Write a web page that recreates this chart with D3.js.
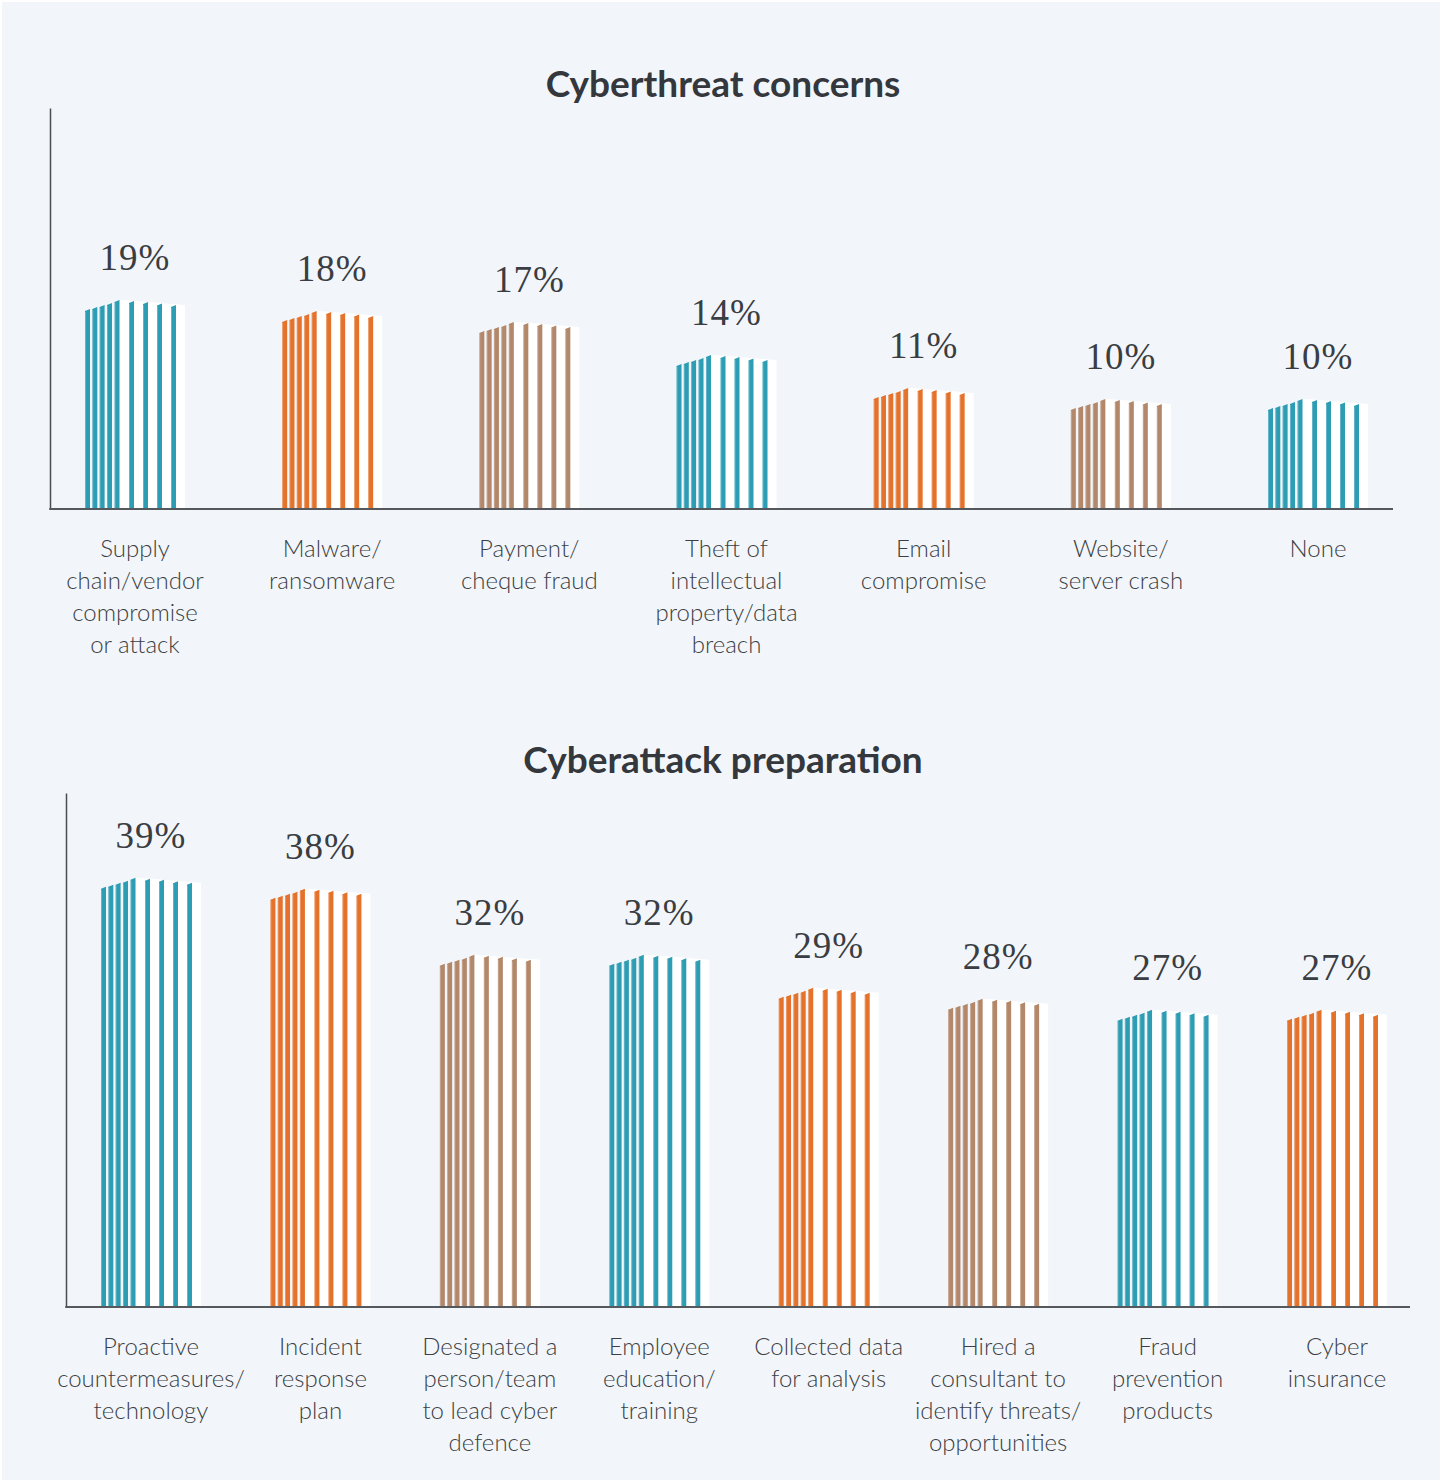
<!DOCTYPE html>
<html>
<head>
<meta charset="utf-8">
<script src="https://cdn.jsdelivr.net/npm/d3@7"></script>
<style>
  html, body { margin: 0; padding: 0; background: #ffffff; }
  svg { display: block; }
</style>
</head>
<body>
<svg id="chart" width="1442" height="1482"></svg>
<script>
// ---- Data ----
const threatCategories = [
  "Supply|chain/vendor|compromise|or attack",
  "Malware/|ransomware",
  "Payment/|cheque fraud",
  "Theft of|intellectual|property/data|breach",
  "Email|compromise",
  "Website/|server crash",
  "None"
];
const threatValues = [19, 18, 17, 14, 11, 10, 10];

const prepCategories = [
  "Proactive|countermeasures/|technology",
  "Incident|response|plan",
  "Designated a|person/team|to lead cyber|defence",
  "Employee|education/|training",
  "Collected data|for analysis",
  "Hired a|consultant to|identify threats/|opportunities",
  "Fraud|prevention|products",
  "Cyber|insurance"
];
const prepValues = [39, 38, 32, 32, 29, 28, 27, 27];

const palette = ["#2d9db4", "#e5722a", "#b2876a"];

// ---- Drawing ----
const svg = d3.select("#chart");
svg.append("rect").attr("x", 2).attr("y", 2).attr("width", 1438).attr("height", 1478)
  .attr("fill", "#f2f6fa");

// Pleated bar: five tightly packed stripes rising to a crest, then four
// spaced stripes on a white panel that falls slightly to the right.
const denseX = [0, 7.3, 14.6, 22, 29.5];
const sparseX = [44, 58, 72, 86];
const drops = [9, 7, 5, 3, 0, 1, 2, 3.5, 5];
const stripeW = 5, barW = 100, slant = 2;

function drawPanel(cfg) {
  const g = svg.append("g");
  const y = d3.scaleLinear().domain([0, cfg.yMax]).range([cfg.baseY, cfg.topY]);
  const x = d3.scalePoint().domain(cfg.categories).range(cfg.xRange);
  const color = (i) => palette[i % 3];

  // title
  g.append("text")
    .attr("x", 723).attr("y", cfg.titleY)
    .attr("text-anchor", "middle")
    .attr("font-family", "Lato, 'Open Sans', sans-serif")
    .attr("font-weight", 700)
    .attr("font-size", 37)
    .attr("fill", "#34373c")
    .text(cfg.title);

  // bars
  cfg.categories.forEach((cat, i) => {
    const v = cfg.values[i];
    const left = x(cat) - barW / 2;
    const peak = y(v);
    const base = y(0);
    const bg = g.append("g");

    // white panel behind the spaced stripes
    const panelL = left + denseX[4] + stripeW;
    const panelR = left + barW;
    bg.append("path")
      .attr("d", `M${panelL},${base} L${panelL},${peak} L${left + sparseX[0]},${peak + 0.5} L${panelR},${peak + drops[8]} L${panelR},${base} Z`)
      .attr("fill", "#ffffff");

    const xs = denseX.concat(sparseX);
    xs.forEach((sx, k) => {
      const xl = left + sx, xr = xl + stripeW;
      const topR = peak + drops[k];
      const topL = topR + slant;
      bg.append("path")
        .attr("d", `M${xl},${base} L${xl},${topL} L${xr},${topR} L${xr},${base} Z`)
        .attr("fill", color(i));
      // light edge on each stripe
      bg.append("line")
        .attr("x1", xl + 0.5).attr("x2", xl + 0.5)
        .attr("y1", topL + 1).attr("y2", base)
        .attr("stroke", "#ffffff").attr("stroke-opacity", 0.25).attr("stroke-width", 1);
    });

    // value label
    g.append("text")
      .attr("x", x(cat))
      .attr("y", peak - 30)
      .attr("text-anchor", "middle")
      .attr("font-family", "'Liberation Serif', 'DejaVu Serif', serif")
      .attr("font-size", 37)
      .attr("letter-spacing", 1)
      .attr("fill", "#3a3d42")
      .text(v + "%");

    // category label
    const lines = cat.split("|");
    const t = g.append("text")
      .attr("text-anchor", "middle")
      .attr("font-family", "Lato, 'Open Sans', sans-serif")
      .attr("font-weight", 300)
      .attr("font-size", 24)
      .attr("fill", "#3c3f44");
    lines.forEach((ln, j) => {
      t.append("tspan")
        .attr("x", x(cat))
        .attr("y", base + 48 + j * 32)
        .text(ln);
    });
  });

  // y axis (line only)
  const yAxis = g.append("g")
    .attr("transform", `translate(${cfg.axisX},0)`)
    .call(d3.axisLeft(y).tickValues([]).tickSizeOuter(0));
  yAxis.select(".domain").attr("stroke", "#4a4d52").attr("stroke-width", 1.5);

  // baseline
  g.append("line")
    .attr("x1", cfg.axisX - 0.75).attr("x2", cfg.axisRight)
    .attr("y1", y(0)).attr("y2", y(0))
    .attr("stroke", "#55585c").attr("stroke-width", 2);
}

drawPanel({
  title: "Cyberthreat concerns",
  titleY: 97,
  categories: threatCategories,
  values: threatValues,
  yMax: 36.45,
  baseY: 509,
  topY: 108,
  xRange: [135, 1318],
  axisX: 50,
  axisRight: 1393
});

drawPanel({
  title: "Cyberattack preparation",
  titleY: 773,
  categories: prepCategories,
  values: prepValues,
  yMax: 46.7,
  baseY: 1307,
  topY: 793,
  xRange: [151, 1337],
  axisX: 66,
  axisRight: 1410
});
</script>
</body>
</html>
